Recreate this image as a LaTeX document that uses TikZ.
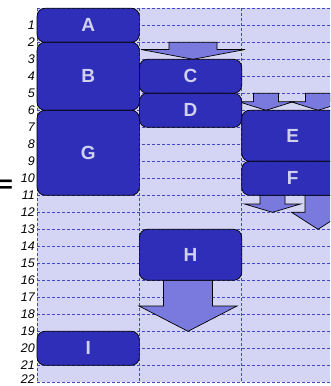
\documentclass[tikz,border=0pt]{standalone}
\usepackage{fontspec}
\setmainfont{Liberation Sans}
\usepackage{tikz}
\usetikzlibrary{positioning,calc}
\definecolor{gridbg}{RGB}{212,212,245}
\definecolor{gridline}{RGB}{70,70,200}
\definecolor{boxblue}{RGB}{46,46,184}
\definecolor{boxtext}{RGB}{208,208,240}
\definecolor{arrowblue}{RGB}{122,122,222}

% block arrow: centre x, top, head base, tip, shaft half width, head half width
\newcommand{\blkarrow}[6]{%
  \filldraw[fill=arrowblue, draw=black, line width=0.7pt]
    (#1-#5,#2) -- (#1+#5,#2) -- (#1+#5,#3) -- (#1+#6,#3) -- (#1,#4)
    -- (#1-#6,#3) -- (#1-#5,#3) -- cycle;}

\begin{document}
\begin{tikzpicture}[x=1pt, y=-1pt,
  slotbox/.style={rectangle, rounded corners=8pt, draw=black, line width=0.7pt,
    fill=boxblue, text=boxtext, inner sep=0pt, minimum width=102.3pt,
    font=\fontsize{19}{20}\selectfont\bfseries},
  rowline/.style={gridline, densely dashed, line width=0.7pt},
  rownum/.style={anchor=east, inner sep=0pt, font=\fontsize{12.5}{12.5}\selectfont\itshape}]

  \useasboundingbox (0,0) rectangle (330,386);
  \clip (0,0) rectangle (330,386);

  % Grid
  \fill[gridbg] (37,8.3) rectangle (330,382.3);
  \foreach \r in {0,...,22}
    \draw[rowline] (37,8.3+17*\r) -- (330,8.3+17*\r);
  \foreach \c in {37,139.3,241.6}
    \draw[rowline] (\c,8.3) -- (\c,382.3);
  \foreach \r in {1,...,21}
    \node[rownum] (row\r) at (35,8.3+17*\r) {\r};
  \node[rownum] (row22) at (35,379.5) {22};
  \node[anchor=east, inner sep=0pt, font=\fontsize{24}{24}\selectfont\bfseries] (eq) at (13,186) {=};

  % Arrows
  \blkarrow{193}{42.3}{49.5}{59.3}{24}{52}
  \blkarrow{266}{93.3}{101.8}{110.3}{12.5}{27}
  \blkarrow{318}{93.3}{101.8}{110.3}{12.5}{27}
  \blkarrow{272.5}{195.3}{204}{212.3}{12.5}{28}
  \blkarrow{318}{195.3}{212.3}{229.3}{13}{26.5}
  \blkarrow{188}{280.3}{306}{331.3}{24.5}{49}

  % Column 1
  \node[slotbox, minimum height=34pt] (A) at (88.2,25.3)  {A};
  \node[slotbox, minimum height=68pt] (B) at (88.2,76.3)  {B};
  \node[slotbox, minimum height=85pt] (G) at (88.2,152.8) {G};
  \node[slotbox, minimum height=34pt] (I) at (88.2,348.3) {I};

  % Column 2
  \node[slotbox, minimum height=34pt] (C) at (190.5,76.3)  {C};
  \node[slotbox, minimum height=34pt] (D) at (190.5,110.3) {D};
  \node[slotbox, minimum height=51pt] (H) at (190.5,254.8) {H};

  % Column 3
  \node[slotbox, minimum height=51pt] (E) at (292.8,135.8) {E};
  \node[slotbox, minimum height=34pt] (F) at (292.8,178.3) {F};
\end{tikzpicture}
\end{document}
